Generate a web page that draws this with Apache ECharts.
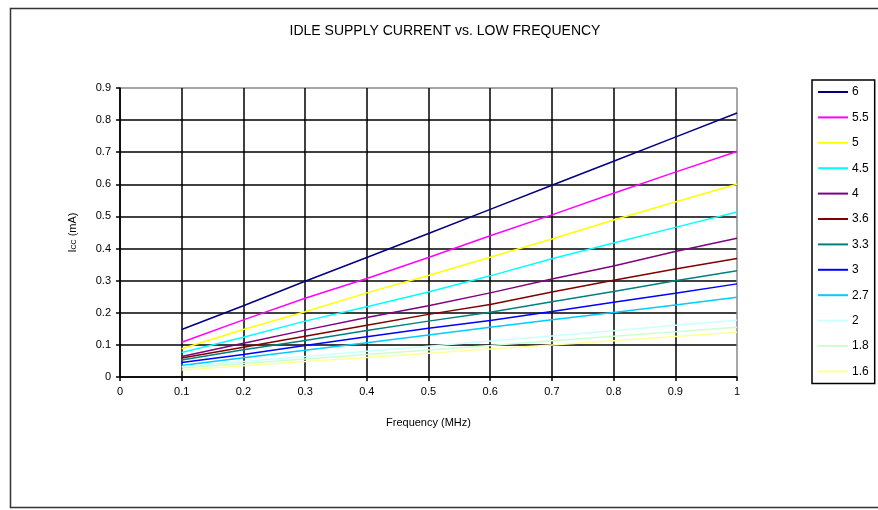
<!DOCTYPE html>
<html>
<head>
<meta charset="utf-8">
<script src="https://cdn.jsdelivr.net/npm/echarts@6/dist/echarts.min.js"></script>
<style>
  html, body { margin: 0; padding: 0; background: #fff; }
  #chart { width: 878px; height: 510px; }
</style>
</head>
<body>
<div id="chart"></div>
<script>
// frequency points (MHz)
var freqs = [0.1, 0.2, 0.3, 0.4, 0.5, 0.6, 0.7, 0.8, 0.9, 1.0];

// supply voltage curves, Icc in mA
var v6   = [0.148, 0.222, 0.298, 0.372, 0.447, 0.522, 0.597, 0.672, 0.747, 0.822];
var v5_5 = [0.108, 0.178, 0.245, 0.307, 0.372, 0.440, 0.505, 0.572, 0.638, 0.702];
var v5   = [0.088, 0.148, 0.203, 0.262, 0.316, 0.373, 0.430, 0.489, 0.545, 0.600];
var v4_5 = [0.076, 0.124, 0.174, 0.219, 0.265, 0.315, 0.368, 0.417, 0.466, 0.514];
var v4   = [0.064, 0.105, 0.146, 0.185, 0.222, 0.262, 0.305, 0.346, 0.391, 0.432];
var v3_6 = [0.059, 0.093, 0.127, 0.161, 0.195, 0.226, 0.265, 0.301, 0.336, 0.369];
var v3_3 = [0.053, 0.085, 0.114, 0.145, 0.174, 0.202, 0.234, 0.266, 0.300, 0.331];
var v3   = [0.045, 0.070, 0.098, 0.125, 0.152, 0.176, 0.204, 0.233, 0.261, 0.290];
var v2_7 = [0.036, 0.060, 0.083, 0.107, 0.131, 0.155, 0.178, 0.201, 0.224, 0.248];
var v2   = [0.032, 0.048, 0.064, 0.080, 0.096, 0.112, 0.128, 0.144, 0.161, 0.177];
var v1_8 = [0.028, 0.042, 0.056, 0.070, 0.084, 0.098, 0.113, 0.127, 0.141, 0.155];
var v1_6 = [0.022, 0.035, 0.048, 0.061, 0.074, 0.087, 0.100, 0.113, 0.126, 0.139];

var names  = ['6', '5.5', '5', '4.5', '4', '3.6', '3.3', '3', '2.7', '2', '1.8', '1.6'];
var values = [v6, v5_5, v5, v4_5, v4, v3_6, v3_3, v3, v2_7, v2, v1_8, v1_6];
var colors = ['#000080', '#ff00ff', '#ffff00', '#00ffff', '#800080', '#800000',
              '#008080', '#0000ff', '#00ccff', '#ccffff', '#ccffcc', '#ffff99'];

var FONT = 'Liberation Sans';

var chart = echarts.init(document.getElementById('chart'));

var series = [];
for (var i = 0; i < names.length; i++) {
  series.push({
    name: names[i],
    type: 'line',
    showSymbol: false,
    symbol: 'none',
    lineStyle: { color: colors[i], width: 1.5 },
    itemStyle: { color: colors[i] },
    data: freqs.map(function (f, j) { return [f, values[i][j]]; }),
    z: 3
  });
}

// interior grid lines black, the plot's far edges grey
var xGridColors = [];
for (var k = 0; k < 11; k++) xGridColors.push(k === 10 ? '#888' : '#000');
var yGridColors = [];
for (var k = 0; k < 10; k++) yGridColors.push(k === 9 ? '#888' : '#000');

var option = {
  backgroundColor: '#fff',
  animation: false,
  color: colors,
  title: {
    text: 'IDLE SUPPLY CURRENT vs. LOW FREQUENCY',
    left: 440,
    top: 19,
    textAlign: 'center',
    textStyle: { fontFamily: FONT, fontSize: 14, fontWeight: 'normal', color: '#000' }
  },
  graphic: [{
    type: 'rect',
    shape: { x: 10.5, y: 8.5, width: 890, height: 499 },
    style: { fill: 'none', stroke: '#333', lineWidth: 1.5 },
    silent: true,
    z: -1
  }],
  grid: { left: 120, right: 141, top: 88, bottom: 133, show: false },
  legend: {
    orient: 'vertical',
    left: 812,
    top: 80,
    padding: [5, 6, 5, 6],
    itemWidth: 30,
    itemHeight: 2,
    itemGap: 11.4,
    icon: 'rect',
    borderColor: '#000',
    borderWidth: 1.5,
    textStyle: { fontFamily: FONT, fontSize: 12, color: '#000', lineHeight: 14, padding: [0, 0, 0, -1] },
    data: names
  },
  xAxis: {
    type: 'value',
    min: 0,
    max: 1,
    interval: 0.1,
    name: 'Frequency (MHz)',
    nameLocation: 'middle',
    nameGap: 40,
    nameTextStyle: { fontFamily: FONT, fontSize: 11, color: '#000' },
    axisLine: { show: true, lineStyle: { color: '#000', width: 1.5 } },
    axisTick: { show: true, length: 4, lineStyle: { color: '#000', width: 1.5 } },
    axisLabel: {
      fontFamily: FONT, fontSize: 11, color: '#000', margin: 9,
      formatter: function (v) { return String(Math.round(v * 10) / 10); }
    },
    splitLine: { show: true, lineStyle: { color: xGridColors, width: 1.5 } }
  },
  yAxis: {
    type: 'value',
    min: 0,
    max: 0.9,
    interval: 0.1,
    name: '{i|I}{s|CC} (mA)',
    nameLocation: 'middle',
    nameGap: 42,
    nameRotate: 90,
    nameTextStyle: {
      fontFamily: FONT, fontSize: 11, color: '#000',
      rich: {
        i: { fontFamily: FONT, fontSize: 11, color: '#000' },
        s: { fontFamily: FONT, fontSize: 7, color: '#000', verticalAlign: 'bottom', padding: [4, 0, 0, 0] }
      }
    },
    axisLine: { show: true, lineStyle: { color: '#000', width: 1.5 } },
    axisTick: { show: true, length: 4, lineStyle: { color: '#000', width: 1.5 } },
    axisLabel: {
      fontFamily: FONT, fontSize: 11, color: '#000', margin: 9,
      formatter: function (v) { return String(Math.round(v * 10) / 10); }
    },
    splitLine: { show: true, lineStyle: { color: yGridColors, width: 1.5 } }
  },
  series: series
};

chart.setOption(option);
window.addEventListener('resize', function () { chart.resize(); });
</script>
</body>
</html>
